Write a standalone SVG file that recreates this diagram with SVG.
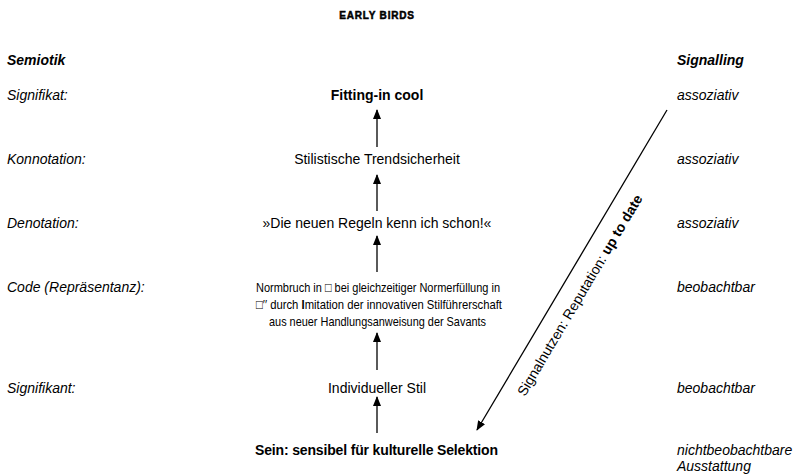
<svg xmlns="http://www.w3.org/2000/svg" width="795" height="476" viewBox="0 0 795 476">
<defs>
<marker id="ah" markerWidth="10" markerHeight="10" refX="9" refY="5" orient="auto" markerUnits="userSpaceOnUse">
<path d="M0,1 L10,5 L0,9 Z" fill="#000"/>
</marker>
<style>
text{font-family:"Liberation Sans",Arial,sans-serif;font-size:14px;fill:#000}
.it{font-style:italic}
.b{font-weight:bold}
.c{text-anchor:middle}
.cd{font-size:13.5px}
.ln{stroke:#000;stroke-width:1.3;fill:none}
</style>
</defs>
<rect width="795" height="476" fill="#fff"/>
<g id="title"><text x="377" y="19" class="c b" style="font-size:10px;letter-spacing:0.8px;stroke:#000;stroke-width:0.5">EARLY BIRDS</text></g>
<g id="left-labels">
<text x="7" y="65" class="it b">Semiotik</text>
<text x="7" y="100" class="it">Signifikat:</text>
<text x="7" y="164" class="it">Konnotation:</text>
<text x="7" y="228" class="it">Denotation:</text>
<text x="7" y="292" class="it">Code (Repräsentanz):</text>
<text x="7" y="393" class="it">Signifikant:</text>
</g>
<g id="right-labels">
<text x="677" y="65" class="it b">Signalling</text>
<text x="677" y="100" class="it">assoziativ</text>
<text x="677" y="164" class="it">assoziativ</text>
<text x="677" y="228" class="it">assoziativ</text>
<text x="677" y="292" class="it">beobachtbar</text>
<text x="677" y="393" class="it">beobachtbar</text>
<text x="677" y="455" class="it">nichtbeobachtbare</text>
<text x="677" y="471" class="it">Ausstattung</text>
</g>
<g id="n-signifikat"><text x="377" y="100" class="c b">Fitting-in cool</text></g>
<g id="n-konnotation"><text x="377" y="164" class="c">Stilistische Trendsicherheit</text></g>
<g id="n-denotation"><text x="377" y="228" class="c">»Die neuen Regeln kenn ich schon!«</text></g>
<g id="n-code">
<text x="256" y="292" class="cd" textLength="244" lengthAdjust="spacingAndGlyphs">Normbruch in □ bei gleichzeitiger Normerfüllung in</text>
<text x="256" y="309" class="cd" textLength="246" lengthAdjust="spacingAndGlyphs">□′′ durch <tspan class="b">I</tspan>mitation der innovativen Stilführerschaft</text>
<text x="269" y="326" class="cd" textLength="217" lengthAdjust="spacingAndGlyphs">aus neuer Handlungsanweisung der Savants</text>
</g>
<g id="n-signifikant"><text x="377" y="393" class="c">Individueller Stil</text></g>
<g id="n-sein"><text x="255" y="455" class="b" textLength="243" lengthAdjust="spacing">Sein: sensibel für kulturelle Selektion</text></g>
<g id="connectors">
<line x1="377" y1="147" x2="377" y2="110" class="ln" marker-end="url(#ah)"/>
<line x1="377" y1="211" x2="377" y2="175" class="ln" marker-end="url(#ah)"/>
<line x1="377" y1="272" x2="377" y2="236" class="ln" marker-end="url(#ah)"/>
<line x1="377" y1="370" x2="377" y2="333" class="ln" marker-end="url(#ah)"/>
<line x1="377" y1="433" x2="377" y2="397" class="ln" marker-end="url(#ah)"/>
<line x1="667" y1="110" x2="477" y2="430" class="ln" marker-end="url(#ah)"/>
<text transform="translate(525,397) rotate(-59.3)">Signalnutzen: Reputation: <tspan class="b">up to date</tspan></text>
</g>
</svg>
